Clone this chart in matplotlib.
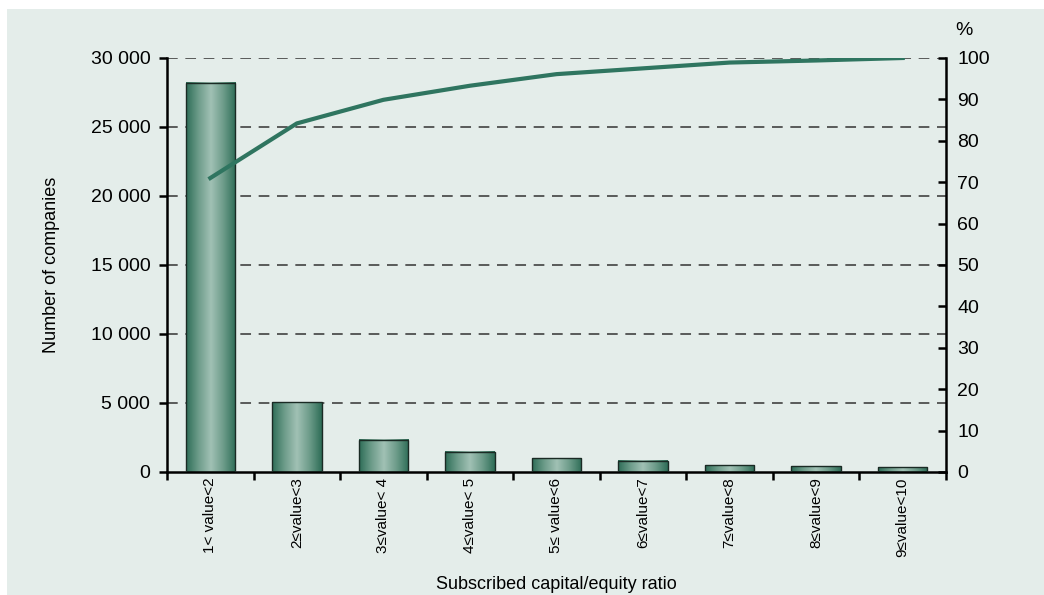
import numpy as np
import matplotlib.pyplot as plt
from matplotlib.patches import Rectangle
from matplotlib.colors import LinearSegmentedColormap
from matplotlib import font_manager

categories = ['1< value<2', '2≤value<3', '3≤value< 4', '4≤value< 5', '5≤ value<6',
              '6≤value<7', '7≤value<8', '8≤value<9', '9≤value<10']
companies = [28200, 5070, 2340, 1450, 990, 800, 490, 410, 340]
cumulative_pct = [71.0, 84.2, 89.9, 93.3, 96.1, 97.5, 98.9, 99.4, 100.0]

bg = '#e4edea'
green = '#2f7560'

names = {f.name for f in font_manager.fontManager.ttflist}
narrow = 'Liberation Sans Narrow' if 'Liberation Sans Narrow' in names else 'Liberation Sans'
plt.rcParams['font.family'] = ['Liberation Sans', 'DejaVu Sans']

fig = plt.figure(figsize=(10.44, 5.95), dpi=100)
fig.patch.set_facecolor('white')
fig.patches.append(Rectangle((7 / 1044, 0), 1, 1 - 9 / 595, transform=fig.transFigure,
                             facecolor=bg, edgecolor='none', zorder=-10))

ax = fig.add_axes([167 / 1044, 1 - 472 / 595, (946 - 167) / 1044, (472 - 58) / 595])
ax.set_facecolor('none')
x = np.arange(len(categories))

# bars with a light centre stripe
bars = ax.bar(x, companies, width=0.57, color='none', edgecolor='#1a2a24', linewidth=1.0, zorder=3)
grad = np.abs(np.linspace(-1, 1, 64))
grad = np.vstack([grad, grad])
cmap = LinearSegmentedColormap.from_list('g', ['#9fc0b3', '#6d9c8a', '#2f6e58'])
for b in bars:
    ax.imshow(grad, cmap=cmap, aspect='auto', zorder=2,
              extent=(b.get_x(), b.get_x() + b.get_width(), 0, b.get_height()))

ax.set_xlim(-0.5, len(categories) - 0.5)
ax.set_ylim(0, 30000)
ax.set_yticks(range(0, 30001, 5000))
ax.set_yticklabels(['0' if v == 0 else f'{v // 1000} 000' for v in range(0, 30001, 5000)], fontsize=14)
for v in range(5000, 30001, 5000):
    ax.axhline(v, color='#333333', linewidth=1.1, linestyle=(0, (7, 5)), zorder=1)

ax.set_xticks(np.arange(-0.5, len(categories), 1))
ax.set_xticklabels([])
ax.set_xticks(x, minor=True)
ax.set_xticklabels(categories, minor=True, rotation=90, fontsize=11)
ax.tick_params(axis='x', which='minor', length=0, pad=4)
ax.tick_params(axis='x', which='major', length=6, width=1.8, direction='out')
ax.tick_params(axis='y', length=6, width=1.8, direction='out', pad=6)
for s in ['top', 'right']:
    ax.spines[s].set_visible(False)
ax.spines['left'].set_linewidth(1.8)
ax.spines['bottom'].set_linewidth(1.8)
ax.set_ylabel('Number of companies', fontsize=13, family=narrow, labelpad=22)
ax.set_xlabel('Subscribed capital/equity ratio', fontsize=13, family=narrow, labelpad=14)

ax2 = ax.twinx()
ax2.plot(x, cumulative_pct, color=green, linewidth=3, zorder=5)
ax2.set_ylim(0, 100)
ax2.set_yticks(range(0, 101, 10))
ax2.tick_params(axis='y', labelsize=14, length=6, width=1.8, direction='in', pad=8)
for s in ['top', 'left', 'bottom']:
    ax2.spines[s].set_visible(False)
ax2.spines['right'].set_linewidth(1.8)
ax2.text(1.012, 1.045, '%', transform=ax2.transAxes, fontsize=14, ha='left', va='bottom')

fig.savefig('out.png', dpi=100, facecolor=fig.get_facecolor())
